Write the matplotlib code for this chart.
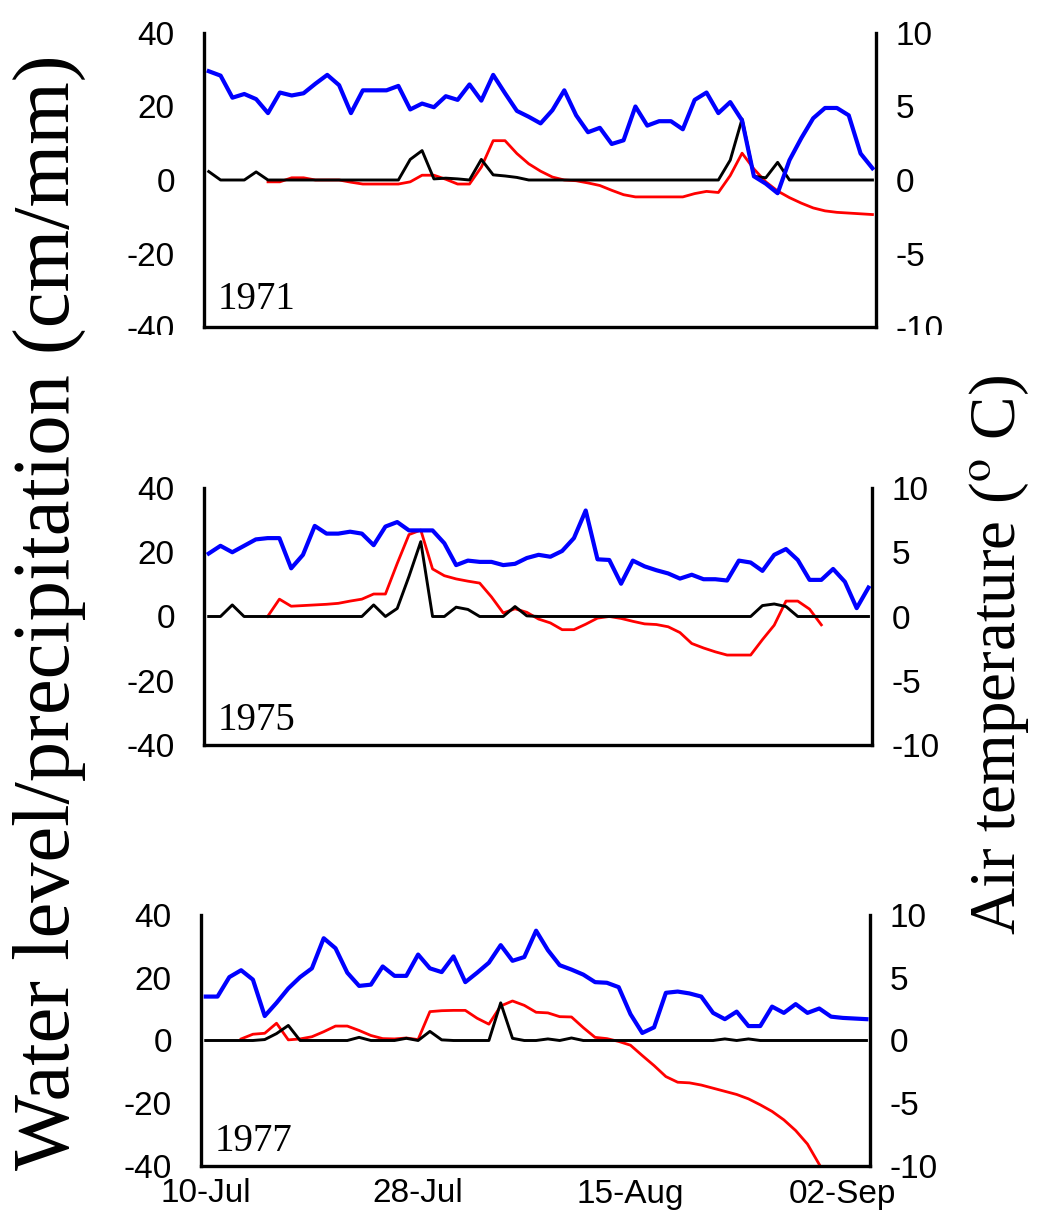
import numpy as np
import matplotlib
matplotlib.use("Agg")
import matplotlib.pyplot as plt
from matplotlib.patches import Rectangle

nan = np.nan

# day index from 10-Jul
days = np.arange(57)
tick_days = [0, 18, 36, 54]
tick_labels = ["10-Jul", "28-Jul", "15-Aug", "02-Sep"]

years = ["1971", "1975", "1977"]

# air temperature (deg C, right axis)
temp_1971 = [7.4, 7.1, 5.6, 5.85, 5.5, 4.55, 5.95, 5.75, 5.9, 6.55,
             7.15, 6.45, 4.55, 6.1, 6.1, 6.1, 6.4, 4.8, 5.2, 4.95,
             5.7, 5.45, 6.5, 5.4, 7.15, 5.9, 4.7, 4.3, 3.85, 4.75,
             6.1, 4.4, 3.25, 3.55, 2.45, 2.7, 5.0, 3.7, 4.0, 4.0,
             3.45, 5.45, 5.95, 4.55, 5.3, 4.05, 0.25, -0.25, -0.9, 1.35,
             2.85, 4.2, 4.9, 4.9, 4.4, 1.8, 0.8]
temp_1975 = [4.9, 5.5, 5.0, 5.5, 6.0, 6.1, 6.1, 3.75, 4.8, 7.05,
             6.45, 6.45, 6.6, 6.45, 5.55, 7.0, 7.35, 6.7, 6.7, 6.7,
             5.7, 4.0, 4.35, 4.25, 4.25, 4.0, 4.1, 4.55, 4.8, 4.65,
             5.1, 6.1, 8.25, 4.45, 4.4, 2.55, 4.35, 3.9, 3.6, 3.35,
             2.95, 3.25, 2.9, 2.9, 2.8, 4.35, 4.2, 3.55, 4.8, 5.25,
             4.4, 2.85, 2.85, 3.7, 2.7, 0.65, 2.25]
temp_1977 = [3.5, 3.5, 5.05, 5.6, 4.85, 1.95, 3.0, 4.15, 5.05, 5.75,
             8.15, 7.35, 5.4, 4.35, 4.45, 5.9, 5.15, 5.15, 6.85, 5.75,
             5.45, 6.7, 4.65, 5.4, 6.2, 7.6, 6.35, 6.65, 8.75, 7.2,
             6.0, 5.65, 5.25, 4.65, 4.6, 4.25, 2.1, 0.6, 1.05, 3.8,
             3.9, 3.75, 3.5, 2.2, 1.7, 2.3, 1.15, 1.15, 2.7, 2.2,
             2.9, 2.2, 2.55, 1.9, 1.8, 1.75, 1.7]

# water level (cm, left axis)
level_1971 = [nan, nan, nan, nan, nan, -0.5, -0.5, 0.6, 0.6, 0.0,
              0.0, 0.0, -0.6, -1.1, -1.1, -1.1, -1.1, -0.5, 1.3, 1.3,
              0.2, -1.1, -1.1, 3.5, 10.7, 10.7, 7.2, 4.4, 2.4, 0.8,
              0.0, -0.2, -0.8, -1.5, -2.8, -4.0, -4.6, -4.6, -4.6, -4.6,
              -4.6, -3.7, -3.1, -3.4, 1.2, 7.3, 3.0, -0.5, -3.0, -4.8,
              -6.3, -7.6, -8.4, -8.8, -9.0, -9.2, -9.4]
level_1975 = [nan, nan, nan, nan, nan, 0.0, 5.4, 3.2, 3.4, 3.6,
              3.8, 4.1, 4.8, 5.4, 7.0, 7.0, 16.5, 25.5, 26.9, 14.8,
              12.7, 11.7, 11.0, 10.4, 6.1, 1.1, 2.4, 1.3, -0.8, -2.0,
              -4.1, -4.1, -2.4, -0.5, 0.0, -0.6, -1.5, -2.3, -2.5, -3.2,
              -5.0, -8.4, -9.8, -11.0, -12.0, -12.0, -12.0, -7.2, -2.7, 4.8,
              4.8, 2.3, -2.6, nan, nan, nan, nan]
level_1977 = [nan, nan, nan, 0.5, 2.0, 2.3, 5.5, 0.2, 0.5, 1.2,
              2.8, 4.6, 4.6, 3.2, 1.6, 0.6, 0.5, 0.8, 0.3, 9.2,
              9.5, 9.6, 9.6, 7.1, 5.2, 11.0, 12.6, 11.2, 9.0, 8.8,
              7.6, 7.5, 4.1, 1.0, 0.6, -0.3, -1.5, -4.8, -8.0, -11.5,
              -13.3, -13.5, -14.2, -15.2, -16.2, -17.2, -18.6, -20.5, -22.6, -25.3,
              -28.7, -33.0, -39.5, nan, nan, nan, nan]

# precipitation (mm, left axis)
precip_1971 = [2.3, 0, 0, 0, 2.2, 0, 0, 0, 0, 0,
               0, 0, 0, 0, 0, 0, 0, 5.6, 8.0, 0.3,
               0.5, 0.3, 0, 5.6, 1.4, 1.1, 0.7, 0, 0, 0,
               0, 0, 0, 0, 0, 0, 0, 0, 0, 0,
               0, 0, 0, 0, 5.4, 16.6, 1.0, 0.6, 4.8, 0,
               0, 0, 0, 0, 0, 0, 0]
precip_1975 = [0, 0, 3.6, 0, 0, 0, 0, 0, 0, 0,
               0, 0, 0, 0, 3.6, 0, 2.5, 12.5, 23.3, 0,
               0, 2.9, 2.2, 0, 0, 0, 3.1, 0.2, 0, 0,
               0, 0, 0, 0, 0, 0, 0, 0, 0, 0,
               0, 0, 0, 0, 0, 0, 0, 3.4, 3.9, 3.1,
               0, 0, 0, 0, 0, 0, 0]
precip_1977 = [0, 0, 0, 0, 0, 0.3, 2.2, 4.8, 0, 0,
               0, 0, 0, 1.0, 0, 0, 0, 0.7, 0, 2.9,
               0.2, 0, 0, 0, 0, 12.0, 0.7, 0, 0, 0.5,
               0, 0.8, 0, 0, 0, 0, 0, 0, 0, 0,
               0, 0, 0, 0, 0.5, 0, 0.5, 0, 0, 0,
               0, 0, 0, 0, 0, 0, 0]

temps = [temp_1971, temp_1975, temp_1977]
levels = [level_1971, level_1975, level_1977]
precips = [precip_1971, precip_1975, precip_1977]

W, H = 1038, 1218
# panel frames in pixels: left, right, top, bottom
frames = [(204, 876, 33, 327), (204, 872, 488, 745), (201, 870, 915, 1166)]

plt.rcParams["font.family"] = ["Liberation Sans", "DejaVu Sans"]
plt.rcParams["mathtext.fontset"] = "stix"
plt.rcParams["axes.unicode_minus"] = False

fig = plt.figure(figsize=(W / 100, H / 100), dpi=100)

for k in range(3):
    x0, x1, y0, y1 = frames[k]
    ax = fig.add_axes([x0 / W, 1 - y1 / H, (x1 - x0) / W, (y1 - y0) / H])
    ax.plot(days, levels[k], color="#ff0000", lw=2.0, zorder=2)
    ax.plot(days, precips[k], color="black", lw=2.1, zorder=3)
    ax.set_xlim(-0.4, 56.3)
    ax.set_ylim(-40, 40)
    ax.set_yticks([-40, -20, 0, 20, 40])
    ax.tick_params(axis="y", length=0, pad=21, labelsize=24)
    ax.tick_params(axis="x", length=0, pad=9, labelsize=24)
    ax.set_xticks(tick_days)
    if k == 2:
        ax.set_xticklabels(tick_labels)
    else:
        ax.set_xticklabels([])
    for s in ["top", "right"]:
        ax.spines[s].set_visible(False)
    for s in ["left", "bottom"]:
        ax.spines[s].set_linewidth(2.4)
    ax.text(0.02, 0.06, years[k], transform=ax.transAxes, fontsize=28,
            family="Liberation Serif", ha="left", va="baseline")

    ax2 = ax.twinx()
    ax2.plot(days, temps[k], color="#0000ff", lw=3.0, zorder=4)
    ax2.set_ylim(-10, 10)
    ax2.set_yticks([-10, -5, 0, 5, 10])
    ax2.tick_params(axis="y", length=0, pad=14, labelsize=24)
    for s in ["top", "left", "bottom"]:
        ax2.spines[s].set_visible(False)
    ax2.spines["right"].set_linewidth(2.4)

# the top panel is cut just below its frame
for xa, xb in [(120, 190), (890, 980)]:
    fig.add_artist(Rectangle((xa / W, 1 - 350 / H), (xb - xa) / W, 15 / H,
                             transform=fig.transFigure, facecolor="white",
                             edgecolor="none", zorder=10))

fig.text(0.048, 0.497, "Water level/precipitation (cm/mm)", rotation=90,
         ha="center", va="center", fontsize=58, family="Liberation Serif")
fig.text(0.962, 0.462, r"Air temperature ($^{\mathrm{o}}$ C)", rotation=90,
         ha="center", va="center", fontsize=47, family="Liberation Serif")

fig.savefig("out.png", dpi=100, facecolor="white")
